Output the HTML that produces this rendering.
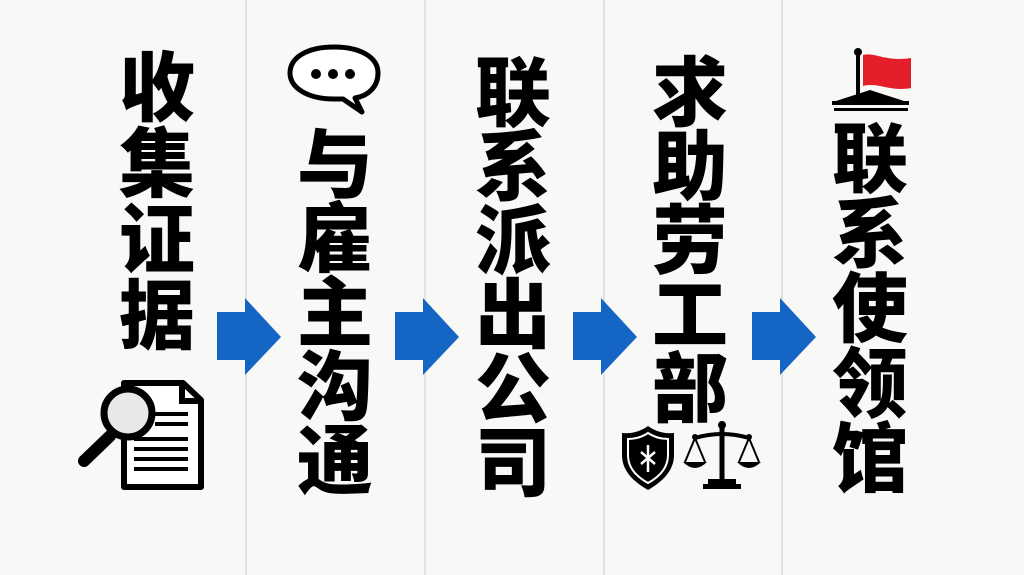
<!DOCTYPE html>
<html><head><meta charset="utf-8">
<style>
html,body{margin:0;padding:0}
body{width:1024px;height:575px;background:#f8f8f7;position:relative;overflow:hidden;
font-family:"Liberation Sans","Noto Sans CJK SC",sans-serif}
.sep{position:absolute;top:0;width:2px;height:575px;background:#e2e2e2}
.col{position:absolute;width:120px;text-align:center;font-size:76px;line-height:74px;font-weight:900;color:#000;
font-family:"Noto Sans CJK SC","WenQuanYi Zen Hei",sans-serif}
svg{position:absolute;left:0;top:0}
</style></head><body>
<div class="sep" style="left:245px"></div>
<div class="sep" style="left:424px"></div>
<div class="sep" style="left:603px"></div>
<div class="sep" style="left:781px"></div>

<div class="col" style="left:97px;top:44px;line-height:76px">收<br>集<br>证<br>据</div>
<div class="col" style="left:275px;top:122px">与<br>雇<br>主<br>沟<br>通</div>
<div class="col" style="left:453px;top:50px">联<br>系<br>派<br>出<br>公<br>司</div>
<div class="col" style="left:630px;top:50px">求<br>助<br>劳<br>工<br>部</div>
<div class="col" style="left:810px;top:116px;line-height:75px">联<br>系<br>使<br>领<br>馆</div>

<svg width="1024" height="575" viewBox="0 0 1024 575">
 <g fill="#1565c4">
  <polygon points="217,312 245,312 245,298 281,337 245,375 245,360 217,360"/>
  <polygon points="395,312 423,312 423,298 459,337 423,375 423,360 395,360"/>
  <polygon points="573,312 601,312 601,298 637,337 601,375 601,360 573,360"/>
  <polygon points="752,312 780,312 780,298 816,337 780,375 780,360 752,360"/>
 </g>
 <!-- document + magnifier -->
 <path d="M124,383 L183,383 L201,400 L201,487 L124,487 Z" fill="#fff" stroke="#000" stroke-width="6" stroke-linejoin="round"/>
 <path d="M182,383 L182,401 L201,401" fill="none" stroke="#000" stroke-width="6"/>
 <g stroke="#000" stroke-width="4">
  <line x1="155" y1="414" x2="188" y2="414"/><line x1="155" y1="424" x2="188" y2="424"/>
  <line x1="134" y1="439" x2="188" y2="439"/><line x1="134" y1="449" x2="188" y2="449"/>
  <line x1="134" y1="459" x2="188" y2="459"/><line x1="134" y1="469" x2="188" y2="469"/>
 </g>
 <line x1="84" y1="461" x2="110" y2="436" stroke="#000" stroke-width="12" stroke-linecap="round"/>
 <circle cx="128" cy="413" r="24" fill="#e8e8e8" stroke="#000" stroke-width="7"/>
 <!-- speech bubble -->
 <path d="M334,47 C360,47 378,57 378,73 C378,87 368,96 355,98 L362,112 L343,99 L334,99 C308,99 290,88 290,73 C290,57 308,47 334,47 Z" fill="#fff" stroke="#000" stroke-width="5" stroke-linejoin="round"/>
 <circle cx="316" cy="74" r="5"/><circle cx="333" cy="74" r="5"/><circle cx="350" cy="74" r="5"/>
 <!-- shield -->
 <path d="M648,426 C640,432 630,434 622,433 L622,455 C622,471 634,482 648,490 C662,482 674,471 674,455 L674,433 C666,434 656,432 648,426 Z" fill="#000"/>
 <path d="M648,433 C642,437 635,439 628,439 L628,455 C628,468 637,477 648,483 C659,477 668,468 668,455 L668,439 C661,439 654,437 648,433 Z" fill="none" stroke="#fff" stroke-width="2"/>
 <g stroke="#fff" stroke-width="2.5"><line x1="648" y1="445" x2="648" y2="472"/><line x1="641" y1="452" x2="655" y2="464"/><line x1="655" y1="452" x2="641" y2="464"/></g>
 <!-- scales -->
 <g stroke="#000" fill="none">
  <line x1="722" y1="425" x2="722" y2="482" stroke-width="5"/>
  <path d="M695,438 Q722,430 749,438" stroke-width="4"/>
  <path d="M695,438 L685,462 M695,438 L705,462 M749,438 L739,462 M749,438 L759,462" stroke-width="2"/>
 </g>
 <circle cx="722" cy="425" r="4"/><circle cx="695" cy="437" r="3"/><circle cx="749" cy="437" r="3"/>
 <path d="M683,462 L707,462 Q695,474 683,462 Z"/><path d="M737,462 L761,462 Q749,474 737,462 Z"/>
 <rect x="708" y="479" width="28" height="6"/><rect x="703" y="484" width="38" height="5"/>
 <!-- flag + building -->
 <line x1="858" y1="52" x2="858" y2="104" stroke="#000" stroke-width="4"/>
 <circle cx="858" cy="52" r="4"/>
 <path d="M863,55 C875,52 885,62 911,58 L911,88 C890,92 878,82 863,86 Z" fill="#e41e2b"/>
 <polygon points="836,101 870,90 904,101" fill="#000"/>
 <rect x="832" y="101" width="77" height="4"/>
 <rect x="834" y="108" width="74" height="3"/>
</svg>
</body></html>
